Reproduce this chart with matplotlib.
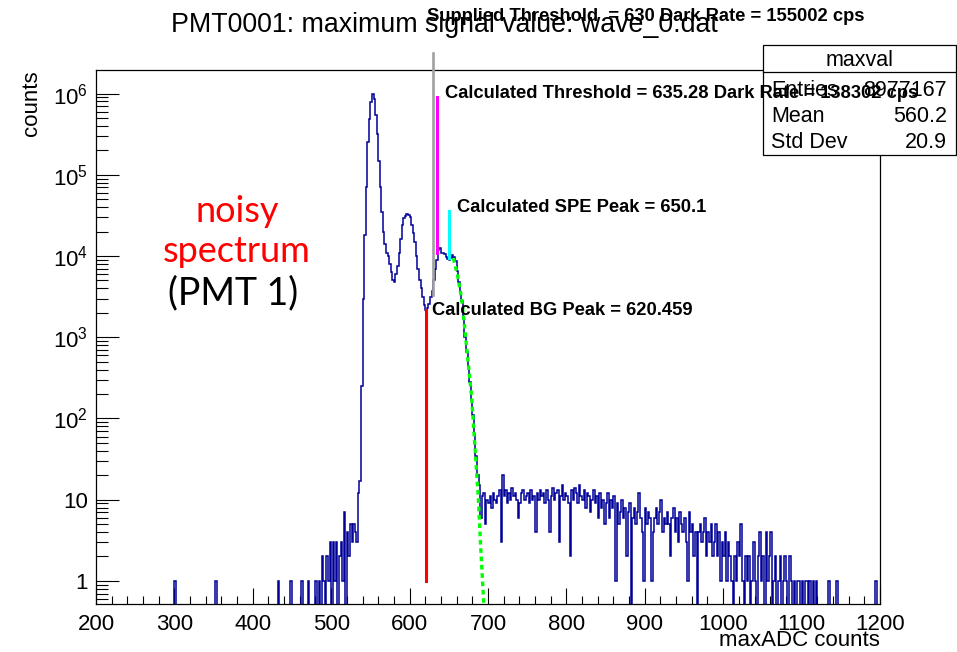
import numpy as np
import matplotlib.pyplot as plt
from matplotlib.patches import Rectangle
from matplotlib.ticker import MultipleLocator, FixedLocator, FixedFormatter, LogLocator, NullFormatter

plt.rcParams['font.family'] = ['Liberation Sans', 'DejaVu Sans']
plt.rcParams['mathtext.fontset'] = 'custom'
plt.rcParams['mathtext.rm'] = 'Liberation Sans'
plt.rcParams['mathtext.it'] = 'Liberation Sans:italic'
plt.rcParams['mathtext.bf'] = 'Liberation Sans:bold'

# histogram binning (2 ADC counts per bin)
bin_lo, bin_hi, bin_w = 200, 1200, 2

# isolated single counts left of the main peak
lone_bins = [300, 352, 432, 448, 462, 470]

# main peak region, bins starting at 480
peak_start = 480
peak_counts = [
    1, 0, 1, 0, 2, 1, 0, 2, 1, 3,
    0, 3, 1, 3, 0, 2, 3, 1, 7, 0,
    4, 2, 5, 3, 5, 4, 3, 12, 17, 250,
    3000, 18000, 70000, 250000, 480000, 780000, 980000, 850000, 550000, 320000,
    150000, 70000, 35000, 20000, 14000, 11000, 10000, 8000, 6300, 5000,
    4800, 6000, 7500, 11000, 16000, 24000, 29000, 31000, 32500, 32000,
    30000, 24000, 19000, 15000, 10000, 7000, 5000, 4000, 3100, 2500,
    2150, 2300, 2600, 3100, 3700, 5000, 7000, 9000, 12000, 12500,
    11000, 10800, 10500, 9800, 9300, 9000, 9500, 10200, 9800, 8600,
    6500, 4800, 3600, 2800, 1700, 1000, 650, 420, 280, 170,
    110, 64, 35, 20, 15,
]

# high-side tail, bins starting at 690
tail_start = 690
tail_counts = [
    6, 11, 12, 5, 10, 9, 11, 8, 12, 10,
    9, 11, 13, 3, 20, 11, 13, 9, 12, 10,
    14, 11, 12, 10, 6, 9, 12, 13, 10, 11,
    12, 9, 13, 10, 11, 4, 12, 10, 13, 11,
    12, 9, 13, 10, 4, 11, 14, 10, 12, 13,
    3, 11, 15, 10, 12, 11, 9, 2, 13, 10,
    14, 12, 9, 15, 11, 10, 13, 8, 12, 11,
    7, 10, 13, 9, 11, 6, 12, 8, 10, 5,
    9, 12, 6, 10, 8, 11, 1, 9, 5, 7,
    10, 6, 8, 2, 7, 9, 0, 6, 8, 5,
    7, 12, 6, 4, 1, 8, 5, 7, 6, 1,
    4, 6, 8, 5, 7, 10, 4, 6, 5, 7,
    5, 2, 6, 8, 4, 6, 3, 7, 5, 4,
    6, 3, 1, 7, 4, 5, 2, 4, 0, 4,
    5, 3, 4, 6, 2, 4, 3, 5, 2, 3,
    5, 2, 4, 1, 3, 2, 4, 1, 3, 2,
    1, 0, 2, 1, 3, 2, 5, 1, 0, 2,
    1, 2, 0, 1, 3, 1, 0, 2, 4, 1,
    2, 0, 4, 1, 2, 4, 0, 1, 2, 0,
    1, 2, 0, 1, 2, 1, 0, 2, 1, 0,
    1, 0, 1, 1, 0, 1, 0, 1, 1, 0,
    1, 0, 1, 0, 1, 0, 0, 0, 0, 0,
    0, 0, 1, 0, 0, 0, 0, 1, 0, 0,
    0, 0, 0, 0, 0, 0, 0, 0, 0, 0,
    0, 0, 0, 0, 0, 0, 0, 0, 0, 0,
    0, 0, 1, 0, 0,
]

# green fit curve
fit_x = [655.8, 661.0, 666.4, 669.5, 672.8, 676.0, 679.2, 683.4, 687.7, 690.7, 694.9]
fit_y = [9400, 5900, 3000, 1580, 740, 370, 180, 44, 10.5, 2.6, 0.47]

# marker lines: x, bottom, top
supplied_thr = (630, 3300, 3.2e6)
calc_thr = (635.28, 11000, 9.0e5)
spe_peak = (650.1, 9500, 35500)
bg_peak = (620.459, 1, 2150)

fig = plt.figure(figsize=(9.57, 6.52), dpi=100)
ax = fig.add_axes([0.1003, 0.0736, 0.8192, 0.819])

edges = np.arange(bin_lo, bin_hi + bin_w, bin_w)
counts = np.zeros(len(edges) - 1)
for b in lone_bins:
    counts[(b - bin_lo) // bin_w] = 1
i0 = (peak_start - bin_lo) // bin_w
counts[i0:i0 + len(peak_counts)] = peak_counts
i1 = (tail_start - bin_lo) // bin_w
counts[i1:i1 + len(tail_counts)] = tail_counts
plot_counts = np.where(counts > 0, counts, 1e-3)

ax.stairs(plot_counts, edges, color='#000099', lw=1.1, baseline=None, zorder=3)

ax.plot(fit_x, fit_y, color='#00ff00', lw=2.4, ls=(0, (1.4, 1.1)), zorder=4)

ax.plot([supplied_thr[0]] * 2, supplied_thr[1:], color='#a0a0a0', lw=1.9, clip_on=False, zorder=5)
ax.plot([calc_thr[0]] * 2, calc_thr[1:], color='#ff00ff', lw=2.2, zorder=5)
ax.plot([spe_peak[0]] * 2, spe_peak[1:], color='#00ffff', lw=2.2, zorder=5)
ax.plot([bg_peak[0]] * 2, bg_peak[1:], color='#ff0000', lw=2.2, zorder=5)

ax.set_yscale('log')
ax.set_xlim(200, 1200)
ax.set_ylim(0.52, 1.95e6)

ax.xaxis.set_major_locator(MultipleLocator(100))
ax.xaxis.set_minor_locator(MultipleLocator(20))
ax.yaxis.set_major_locator(FixedLocator([1, 10, 1e2, 1e3, 1e4, 1e5, 1e6]))
ax.yaxis.set_major_formatter(FixedFormatter(['1', '10', r'$10^{2}$', r'$10^{3}$', r'$10^{4}$', r'$10^{5}$', r'$10^{6}$']))
ax.yaxis.set_minor_locator(LogLocator(base=10, subs=np.arange(2, 10), numticks=20))
ax.yaxis.set_minor_formatter(NullFormatter())

ax.tick_params(which='both', direction='in', top=False, right=False, width=0.8, labelsize=16)
ax.tick_params(axis='x', which='major', length=11.5, pad=7)
ax.tick_params(axis='x', which='minor', length=5.8)
ax.tick_params(axis='y', which='major', length=16.5, pad=6)
ax.tick_params(axis='y', which='minor', length=8.6)
for s in ax.spines.values():
    s.set_linewidth(0.9)

# titles and axis labels
fig.text(444 / 957, 1 - 32 / 652, 'PMT0001: maximum signal value: wave_0.dat',
         ha='center', va='baseline', fontsize=19.3)
fig.text(31 / 957, 1 - 70 / 652, 'counts', rotation=90, ha='center', va='top', fontsize=16)
fig.text(880 / 957, 1 - 646 / 652, 'maxADC counts', ha='right', va='baseline', fontsize=16)

# annotations
fig.text(622, 7.9e6, 'Supplied Threshold  = 630 Dark Rate = 155002 cps', transform=ax.transData,
         fontsize=13.2, fontweight='bold', va='baseline', zorder=20)
fig.text(645, 8.7e5, 'Calculated Threshold = 635.28 Dark Rate = 138302 cps', transform=ax.transData,
         fontsize=13.2, fontweight='bold', va='baseline', zorder=20)
ax.text(660.5, 34400, 'Calculated SPE Peak = 650.1', fontsize=13.2, fontweight='bold', va='baseline', zorder=6)
ax.text(628.6, 1870, 'Calculated BG Peak = 620.459', fontsize=13.2, fontweight='bold', va='baseline', zorder=6)

# stats box
fig.patches.append(Rectangle((763 / 957, 1 - 155 / 652), 193 / 957, 110 / 652, transform=fig.transFigure,
                             facecolor='white', edgecolor='black', lw=0.9, zorder=10))
fig.lines.append(plt.Line2D([763 / 957, 956 / 957], [1 - 72 / 652] * 2, transform=fig.transFigure,
                            color='black', lw=0.9, zorder=11))
fig.text(860 / 957, 1 - 66 / 652, 'maxval', ha='center', va='baseline', fontsize=15.5, zorder=12)
stat_names = ['Entries', 'Mean', 'Std Dev']
stat_values = ['8977167', '560.2', '20.9']
stat_rows = [96, 122, 148]
for name, val, row in zip(stat_names, stat_values, stat_rows):
    fig.text(771 / 957, 1 - row / 652, name, ha='left', va='baseline', fontsize=15.5, zorder=12)
    fig.text(947 / 957, 1 - row / 652, val, ha='right', va='baseline', fontsize=15.5, zorder=12)

# hand-written note
note_font = ['Lato', 'DejaVu Sans']
fig.text(237 / 957, 1 - 222 / 652, 'noisy', color='#ff0000', ha='center', va='baseline',
         fontsize=26, family=note_font)
fig.text(237 / 957, 1 - 262 / 652, 'spectrum', color='#ff0000', ha='center', va='baseline',
         fontsize=26, family=note_font)
fig.text(233 / 957, 1 - 304 / 652, '(PMT 1)', color='black', ha='center', va='baseline',
         fontsize=27, family=note_font)

fig.savefig('out.png', dpi=100)
